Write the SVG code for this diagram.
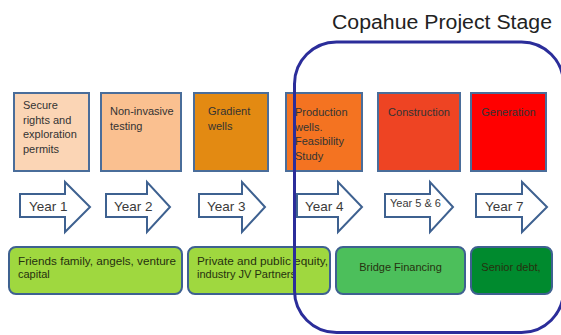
<svg xmlns="http://www.w3.org/2000/svg" width="561" height="335" viewBox="0 0 561 335">
  <style>
    .stage { stroke: #4A6D9A; stroke-width: 2; }
    .stage-text { font-family: "Liberation Sans", Arial, sans-serif; font-size: 11px; fill: #333333; }
    .year { fill: #ffffff; stroke: #3E6190; stroke-width: 2; stroke-linejoin: miter; }
    .year-text { font-family: "Liberation Sans", Arial, sans-serif; font-size: 13.5px; fill: #3a3a3a; }
    .fund { stroke: #3E6190; stroke-width: 2; }
    .fund-text { font-family: "Liberation Sans", Arial, sans-serif; font-size: 11px; fill: #26310f; }
    .title { font-family: "Liberation Sans", Arial, sans-serif; font-size: 20px; fill: #222222; }
    .frame { fill: none; stroke: #2B2D9A; stroke-width: 3; }
  </style>

  <rect width="561" height="335" fill="#ffffff"/>

  <!-- project stage boxes -->
  <g id="stage-permits">
    <rect class="stage" x="14" y="93" width="75" height="78" fill="#FBD5B5"/>
    <text class="stage-text" x="23" y="109">Secure</text>
    <text class="stage-text" x="23" y="123.5">rights and</text>
    <text class="stage-text" x="23" y="138">exploration</text>
    <text class="stage-text" x="23" y="152.5">permits</text>
  </g>
  <g id="stage-testing">
    <rect class="stage" x="101" y="93" width="80" height="78" fill="#FAC090"/>
    <text class="stage-text" x="110" y="115">Non-invasive</text>
    <text class="stage-text" x="110" y="129.5">testing</text>
  </g>
  <g id="stage-gradient">
    <rect class="stage" x="194" y="93" width="74" height="78" fill="#E38A12"/>
    <text class="stage-text" x="208" y="115">Gradient</text>
    <text class="stage-text" x="208" y="129.5">wells</text>
  </g>
  <g id="stage-production">
    <rect class="stage" x="286" y="93" width="76" height="78" fill="#F47321"/>
    <text class="stage-text" x="295" y="116">Production</text>
    <text class="stage-text" x="295" y="130.5">wells.</text>
    <text class="stage-text" x="295" y="145">Feasibility</text>
    <text class="stage-text" x="295" y="159.5">Study</text>
  </g>
  <g id="stage-construction">
    <rect class="stage" x="378" y="93" width="82" height="78" fill="#EE4423"/>
    <text class="stage-text" x="419" y="116" text-anchor="middle" fill="#4a1408">Construction</text>
  </g>
  <g id="stage-generation">
    <rect class="stage" x="471" y="93" width="75" height="78" fill="#FF0000"/>
    <text class="stage-text" x="508.5" y="116" text-anchor="middle" fill="#4a0505">Generation</text>
  </g>

  <!-- year arrows -->
  <g id="year-1">
    <polygon class="year" points="20,194 65,194 65,182 90,207 65,232 65,217 20,217"/>
    <text class="year-text" x="29" y="211">Year 1</text>
  </g>
  <g id="year-2">
    <polygon class="year" points="106,194 147,194 147,182 170,207 147,232 147,217 106,217"/>
    <text class="year-text" x="114" y="211">Year 2</text>
  </g>
  <g id="year-3">
    <polygon class="year" points="199,194 242,194 242,182 265,207 242,232 242,217 199,217"/>
    <text class="year-text" x="207" y="211">Year 3</text>
  </g>
  <g id="year-4">
    <polygon class="year" points="297,194 338,194 338,182 362,207 338,232 338,217 297,217"/>
    <text class="year-text" x="305" y="211">Year 4</text>
  </g>
  <g id="year-5-6">
    <polygon class="year" points="385,194 430,194 430,182 453,207 430,232 430,217 385,217"/>
    <text class="year-text" x="390" y="207" style="font-size:11px">Year 5 &amp; 6</text>
  </g>
  <g id="year-7">
    <polygon class="year" points="476,194 522,194 522,182 547,207 522,232 522,217 476,217"/>
    <text class="year-text" x="485" y="211">Year 7</text>
  </g>

  <!-- funding sources -->
  <g id="fund-friends">
    <rect class="fund" x="9" y="247" width="173" height="47" rx="7" fill="#9FD83F"/>
    <text class="fund-text" x="18" y="265" textLength="158" lengthAdjust="spacingAndGlyphs">Friends family, angels, venture</text>
    <text class="fund-text" x="18" y="278">capital</text>
  </g>
  <g id="fund-private">
    <rect class="fund" x="188" y="247" width="142" height="47" rx="7" fill="#9FD83F"/>
    <text class="fund-text" x="197" y="265" textLength="131" lengthAdjust="spacingAndGlyphs">Private and public equity,</text>
    <text class="fund-text" x="197" y="278">industry JV Partners</text>
  </g>
  <g id="fund-bridge">
    <rect class="fund" x="336" y="247" width="129" height="47" rx="7" fill="#4CBF5B"/>
    <text class="fund-text" x="400.5" y="271" text-anchor="middle" fill="#1f3d22">Bridge Financing</text>
  </g>
  <g id="fund-senior">
    <rect class="fund" x="471" y="247" width="81" height="47" rx="7" fill="#008A2E"/>
    <text class="fund-text" x="511" y="271" text-anchor="middle" fill="#0f2a12">Senior debt,</text>
  </g>

  <!-- Copahue project stage frame -->
  <g id="copahue-stage">
    <text class="title" x="332" y="29" textLength="220" lengthAdjust="spacingAndGlyphs">Copahue Project Stage</text>
    <rect class="frame" x="294.5" y="42" width="269" height="290.5" rx="42" ry="42"/>
  </g>
</svg>
